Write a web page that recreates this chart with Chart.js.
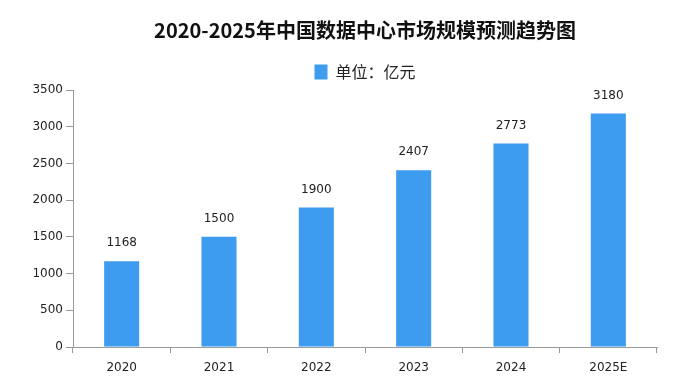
<!DOCTYPE html>
<html><head><meta charset="utf-8">
<script src="https://cdn.jsdelivr.net/npm/chart.js@4/dist/chart.umd.min.js"></script>
<style>html,body{margin:0;padding:0;background:#fff}#wrap{width:684px;height:387px}</style>
</head><body><div id="wrap"><canvas id="c" width="684" height="387"></canvas></div>
<script>
const categories = ["2020","2021","2022","2023","2024","2025E"];
const marketSize = [1168,1500,1900,2407,2773,3180];
const yTicks = [0,500,1000,1500,2000,2500,3000,3500];
const seriesName = "单位：亿元";
const titleText = "2020-2025年中国数据中心市场规模预测趋势图";

const labelPlugin = {
  id:'barLabels',
  afterDatasetsDraw(chart){
    const ctx = chart.ctx;
    const meta = chart.getDatasetMeta(0);
    ctx.save();
    ctx.font = '12px "DejaVu Sans"';
    ctx.fillStyle = '#222';
    ctx.textAlign = 'center';
    ctx.textBaseline = 'middle';
    meta.data.forEach((bar,i)=>{
      ctx.fillText(String(chart.data.datasets[0].data[i]), bar.x, bar.y - 18);
    });
    ctx.restore();
  }
};

new Chart(document.getElementById('c'),{
  type:'bar',
  data:{labels:categories,datasets:[{label:seriesName,data:marketSize,backgroundColor:'#3d9bf0',borderWidth:0,categoryPercentage:1,barPercentage:0.36}]},
  options:{
    responsive:false,animation:false,
    layout:{padding:{left:0,right:27,top:0,bottom:0}},
    plugins:{
      title:{display:true,text:titleText,fullSize:false,color:'#111',font:{family:'"Noto Sans CJK SC"',size:20,weight:'bold'},padding:{top:18,bottom:12}},
      legend:{display:true,fullSize:false,labels:{boxWidth:13,boxHeight:15,color:'#222',font:{family:'"Noto Sans CJK SC"',size:16},padding:10}},
      tooltip:{enabled:false}
    },
    scales:{
      x:{afterFit:s=>{s.height=40;},
         grid:{display:true,drawOnChartArea:false,drawTicks:true,tickLength:6,color:'#999',offset:true},border:{color:'#999'},
         ticks:{color:'#222',font:{family:'"DejaVu Sans"',size:12},padding:8}},
      y:{min:0,max:3500,afterFit:s=>{s.width=73;},afterBuildTicks:s=>{s.ticks=yTicks.map(v=>({value:v}));},
         grid:{display:true,drawOnChartArea:false,drawTicks:true,tickLength:7,color:'#999'},border:{color:'#999'},
         ticks:{color:'#222',font:{family:'"DejaVu Sans"',size:12},padding:3,callback:v=>String(v)}}
    }
  },
  plugins:[labelPlugin]
});
</script></body></html>
